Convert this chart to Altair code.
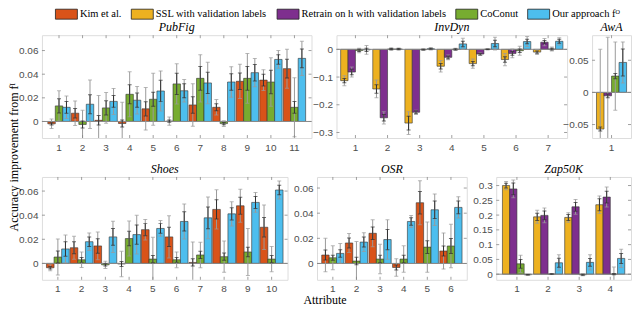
import altair as alt
import pandas as pd

KIM = "Kim et al."
SSL = "SSL with validation labels"
RET = "Retrain on h with validation labels"
COC = "CoConut"
OUR = "Our approach fᴼ"
METHODS = [KIM, SSL, RET, COC, OUR]
COLORS = ["#D95319", "#EDB120", "#7E2F8E", "#77AC30", "#4DBEEE"]

# ---------------- PubFig (11 attributes) ----------------
pubfig_kim = [-0.002, 0.007, 0.001, -0.0017, 0.0107, 0.0003, 0.014, 0.012, 0.034, 0.035, 0.0447]
pubfig_kim_sd = [0.004, 0.0104, 0.021, 0.018, 0.018, 0.0035, 0.018, 0.0065, 0.0145, 0.0088, 0.0165]
pubfig_kim_se = [0.001, 0.004, 0.004, 0.003, 0.006, 0.001, 0.007, 0.003, 0.007, 0.005, 0.008]
pubfig_coc = [0.0132, -0.0025, 0.0115, 0.023, 0.0188, 0.0318, 0.0365, -0.0018, 0.0365, 0.0334, 0.012]
pubfig_coc_sd = [0.0127, 0.012, 0.013, 0.019, 0.022, 0.017, 0.02, 0.0024, 0.021, 0.0205, 0.025]
pubfig_coc_se = [0.006, 0.003, 0.006, 0.008, 0.006, 0.009, 0.01, 0.001, 0.01, 0.01, 0.005]
pubfig_our = [0.012, 0.0146, 0.017, 0.018, 0.0258, 0.026, 0.0326, 0.0334, 0.0413, 0.0525, 0.0534]
pubfig_our_sd = [0.0095, 0.0205, 0.011, 0.0117, 0.017, 0.0095, 0.0175, 0.013, 0.012, 0.0075, 0.0145]
pubfig_our_se = [0.005, 0.008, 0.005, 0.006, 0.009, 0.006, 0.009, 0.007, 0.007, 0.004, 0.008]

# ---------------- InvDyn (7 attributes) ----------------
invdyn_ssl = [-0.113, -0.143, -0.266, -0.061, -0.0515, -0.0368, -0.01]
invdyn_ssl_sd = [0.018, 0.032, 0.041, 0.021, 0.017, 0.022, 0.009]
invdyn_ssl_se = [0.008, 0.015, 0.025, 0.01, 0.008, 0.01, 0.004]
invdyn_ret = [-0.082, -0.247, -0.227, -0.029, -0.017, -0.0147, 0.0257]
invdyn_ret_sd = [0.018, 0.022, 0.007, 0.009, 0.005, 0.016, 0.013]
invdyn_ret_se = [0.01, 0.012, 0.005, 0.005, 0.003, 0.007, 0.006]
invdyn_coc = [-0.004, 0.001, -0.001, 0.0, 0.0, -0.005, 0.001]
invdyn_coc_sd = [0.008, 0.005, 0.003, 0.004, 0.002, 0.016, 0.007]
invdyn_coc_se = [0.004, 0.002, 0.001, 0.002, 0.001, 0.006, 0.003]
invdyn_our = [-0.002, 0.001, 0.002, 0.0196, 0.021, 0.028, 0.029]
invdyn_our_sd = [0.016, 0.004, 0.004, 0.02, 0.023, 0.018, 0.013]
invdyn_our_se = [0.006, 0.002, 0.002, 0.01, 0.012, 0.008, 0.007]

# ---------------- AwA (1 attribute) ----------------
awa_ssl, awa_ssl_sd, awa_ssl_se = [-0.057], [0.124], [0.003]
awa_ret, awa_ret_sd, awa_ret_se = [-0.0053], [0.091], [0.003]
awa_coc, awa_coc_sd, awa_coc_se = [0.0254], [0.053], [0.004]
awa_our, awa_our_sd, awa_our_se = [0.0466], [0.032], [0.021]

# ---------------- Shoes (10 attributes) ----------------
shoes_kim = [-0.0036, 0.013, 0.0145, -0.0005, 0.028, 0.022, 0.0008, 0.0448, 0.0478, 0.030]
shoes_kim_sd = [0.0025, 0.0095, 0.0115, 0.0105, 0.0085, 0.0175, 0.017, 0.0162, 0.0137, 0.0185]
shoes_kim_se = [0.001, 0.005, 0.006, 0.002, 0.005, 0.008, 0.003, 0.008, 0.007, 0.008]
shoes_coc = [0.0053, 0.003, -0.0012, 0.0206, 0.0036, 0.003, 0.007, 0.0056, 0.0095, 0.0036]
shoes_coc_sd = [0.015, 0.0064, 0.003, 0.0145, 0.018, 0.0065, 0.0106, 0.013, 0.0195, 0.0105]
shoes_coc_se = [0.005, 0.002, 0.001, 0.006, 0.003, 0.002, 0.003, 0.003, 0.004, 0.003]
shoes_our = [0.012, 0.018, 0.022, 0.0239, 0.029, 0.0348, 0.0378, 0.0411, 0.0506, 0.0609]
shoes_our_sd = [0.0115, 0.0073, 0.013, 0.016, 0.0065, 0.0145, 0.0173, 0.01, 0.0082, 0.0075]
shoes_our_se = [0.006, 0.004, 0.007, 0.008, 0.004, 0.008, 0.009, 0.005, 0.005, 0.004]

# ---------------- OSR (6 attributes) ----------------
osr_kim = [0.0067, 0.0163, 0.024, -0.0032, 0.0483, 0.0099]
osr_kim_sd = [0.0133, 0.0075, 0.0107, 0.007, 0.0175, 0.0144]
osr_kim_se = [0.004, 0.004, 0.005, 0.002, 0.009, 0.004]
osr_coc = [0.0045, 0.0019, 0.0035, 0.0035, 0.013, 0.0139]
osr_coc_sd = [0.0095, 0.0155, 0.0117, 0.0105, 0.02, 0.0173]
osr_coc_se = [0.002, 0.003, 0.003, 0.003, 0.005, 0.006]
osr_our = [0.008, 0.017, 0.019, 0.0334, 0.0427, 0.0446]
osr_our_sd = [0.0078, 0.0075, 0.0157, 0.0048, 0.0126, 0.0085]
osr_our_se = [0.003, 0.004, 0.008, 0.003, 0.007, 0.005]

# ---------------- Zap50K (4 attributes) ----------------
zap_ssl = [0.300, 0.194, 0.192, 0.235]
zap_ssl_sd = [0.014, 0.022, 0.016, 0.03]
zap_ssl_se = [0.008, 0.012, 0.01, 0.02]
zap_ret = [0.2885, 0.199, 0.228, 0.261]
zap_ret_sd = [0.03, 0.025, 0.025, 0.034]
zap_ret_se = [0.02, 0.015, 0.015, 0.02]
zap_coc = [0.035, 0.0005, -0.002, 0.0]
zap_coc_sd = [0.029, 0.001, 0.003, 0.024]
zap_coc_se = [0.015, 0.001, 0.002, 0.002]
zap_our = [-0.002, 0.0386, 0.04, 0.0534]
zap_our_sd = [0.002, 0.027, 0.026, 0.031]
zap_our_se = [0.001, 0.015, 0.013, 0.017]

TICK_SMALL = [0, 0.02, 0.04, 0.06]
TICK_INVDYN = [-0.3, -0.2, -0.1, 0]
TICK_AWA = [-0.05, 0, 0.05]
TICK_ZAP = [0, 0.05, 0.1, 0.15, 0.2, 0.25, 0.3]

SERIF = "Liberation Serif"
SANS = "Liberation Sans"
FRAME = "#a0a0a0"

LEGEND = alt.Legend(
    orient="none", legendX=19, legendY=-27, direction="horizontal", columns=5,
    title=None, symbolType="M-2.2,-1H2.2V1H-2.2Z", symbolSize=100, padding=0,
    symbolStrokeColor="#222", symbolStrokeWidth=0.8, symbolOpacity=1,
    labelFont=SERIF, labelFontSize=10.5, labelColor="#000", labelOffset=8,
    labelLimit=400, columnPadding=7,
)


def make_df(series):
    rows = []
    for m, v, sd, se in series:
        for i, (a, b, c) in enumerate(zip(v, sd, se)):
            rows.append(dict(attr=i + 1, method=m, value=a,
                             sd_lo=a - b, sd_hi=a + b, se_lo=a - c, se_hi=a + c))
    return pd.DataFrame(rows)


def panel(title, series, ydom, yticks, width, pi, po, height=103):
    df = make_df(series)
    methods = [s[0] for s in series]
    n = len(series[0][1])
    xs = alt.X("attr:O", scale=alt.Scale(paddingInner=pi, paddingOuter=po),
               axis=alt.Axis(title=None, labelAngle=0, ticks=False, domain=False,
                             labelPadding=4, labelFont=SANS, labelFontSize=10,
                             labelColor="#4d4d4d"))
    xo = alt.XOffset("method:N", scale=alt.Scale(domain=methods, paddingInner=0, paddingOuter=0))
    ysc = alt.Scale(domain=ydom, nice=False, zero=False)
    yax = alt.Axis(values=yticks, format="~g", title=None, ticks=False, domain=False,
                   grid=False, labelPadding=4, labelFont=SANS, labelFontSize=10,
                   labelColor="#4d4d4d")

    def Y(f):
        return alt.Y(f, type="quantitative", scale=ysc, axis=yax)

    base = alt.Chart(df)
    bars = base.mark_bar(stroke="#333333", strokeWidth=0.6, clip=True).encode(
        x=xs, xOffset=xo, y=Y("value"),
        color=alt.Color("method:N", scale=alt.Scale(domain=METHODS, range=COLORS), legend=LEGEND),
    )
    zero = alt.Chart(pd.DataFrame({"z": [0]})).mark_rule(color="#8a8a8a", strokeWidth=1).encode(y=Y("z"))
    layers = [bars, zero]
    for lo, hi, col in (("sd_lo", "sd_hi", "#9a9a9a"), ("se_lo", "se_hi", "#303030")):
        layers.append(base.mark_rule(color=col, strokeWidth=1, clip=True).encode(
            x=xs, xOffset=xo, y=Y(lo), y2=alt.Y2(hi)))
        for f in (lo, hi):
            layers.append(base.mark_tick(color=col, thickness=1, size=4, orient="horizontal", clip=True).encode(
                x=xs, xOffset=xo, y=Y(f)))
    xt = alt.Chart(pd.DataFrame({"attr": list(range(1, n + 1))}))
    layers.append(xt.mark_rule(color="#888", strokeWidth=0.8).encode(x=xs, y=alt.value(0), y2=alt.value(3)))
    layers.append(xt.mark_rule(color="#888", strokeWidth=0.8).encode(x=xs, y=alt.value(height), y2=alt.value(height - 3)))
    yt = alt.Chart(pd.DataFrame({"v": yticks}))
    layers.append(yt.mark_rule(color="#888", strokeWidth=0.8).encode(y=Y("v"), x=alt.value(0), x2=alt.value(3)))
    layers.append(yt.mark_rule(color="#888", strokeWidth=0.8).encode(y=Y("v"), x=alt.value(width), x2=alt.value(width - 3)))
    return alt.layer(*layers).properties(
        width=width, height=height,
        title=alt.TitleParams(title, font=SERIF, fontStyle="italic", fontWeight="normal",
                              fontSize=12, offset=1, color="#000"),
    )


pubfig = panel("PubFig", [
    (KIM, pubfig_kim, pubfig_kim_sd, pubfig_kim_se),
    (COC, pubfig_coc, pubfig_coc_sd, pubfig_coc_se),
    (OUR, pubfig_our, pubfig_our_sd, pubfig_our_se)],
    [-0.014, 0.073], TICK_SMALL, 270, 0.05, 0.25)
invdyn = panel("InvDyn", [
    (SSL, invdyn_ssl, invdyn_ssl_sd, invdyn_ssl_se),
    (RET, invdyn_ret, invdyn_ret_sd, invdyn_ret_se),
    (COC, invdyn_coc, invdyn_coc_sd, invdyn_coc_se),
    (OUR, invdyn_our, invdyn_our_sd, invdyn_our_se)],
    [-0.32, 0.051], TICK_INVDYN, 231, 0.08, 0.13)
awa = panel("AwA", [
    (SSL, awa_ssl, awa_ssl_sd, awa_ssl_se),
    (RET, awa_ret, awa_ret_sd, awa_ret_se),
    (COC, awa_coc, awa_coc_sd, awa_coc_se),
    (OUR, awa_our, awa_our_sd, awa_our_se)],
    [-0.071, 0.089], TICK_AWA, 39, 0.0, 0.147)
shoes = panel("Shoes", [
    (KIM, shoes_kim, shoes_kim_sd, shoes_kim_se),
    (COC, shoes_coc, shoes_coc_sd, shoes_coc_se),
    (OUR, shoes_our, shoes_our_sd, shoes_our_se)],
    [-0.0136, 0.0717], TICK_SMALL, 246, 0.04, 0.19)
osr = panel("OSR", [
    (KIM, osr_kim, osr_kim_sd, osr_kim_se),
    (COC, osr_coc, osr_coc_sd, osr_coc_se),
    (OUR, osr_our, osr_our_sd, osr_our_se)],
    [-0.013, 0.0688], TICK_SMALL, 150, 0.06, 0.2)
zap = panel("Zap50K", [
    (SSL, zap_ssl, zap_ssl_sd, zap_ssl_se),
    (RET, zap_ret, zap_ret_sd, zap_ret_se),
    (COC, zap_coc, zap_coc_sd, zap_coc_se),
    (OUR, zap_our, zap_our_sd, zap_our_se)],
    [-0.019, 0.329], TICK_ZAP, 135, 0.07, 0.2)

top = alt.hconcat(pubfig, invdyn, awa, spacing=25, bounds="flush").resolve_scale(xOffset="independent")
bottom = alt.hconcat(shoes, osr, zap, spacing=29.5, bounds="flush").resolve_scale(xOffset="independent").properties(
    title=alt.TitleParams("Attribute", orient="bottom", anchor="middle", font=SERIF,
                          fontSize=12, fontWeight="normal", offset=1, color="#000"))

chart = alt.vconcat(top, bottom, spacing=9).resolve_scale(xOffset="independent").properties(
    padding=0,
    title=alt.TitleParams("Accuracy improvement from fᴵ", orient="left", anchor="middle",
                          font=SERIF, fontSize=12, fontWeight="normal", offset=-3, color="#000"),
).configure_view(stroke=FRAME, strokeWidth=1).configure(background="white")

chart.save("out.html", embed_options={"renderer": "svg", "actions": False})
